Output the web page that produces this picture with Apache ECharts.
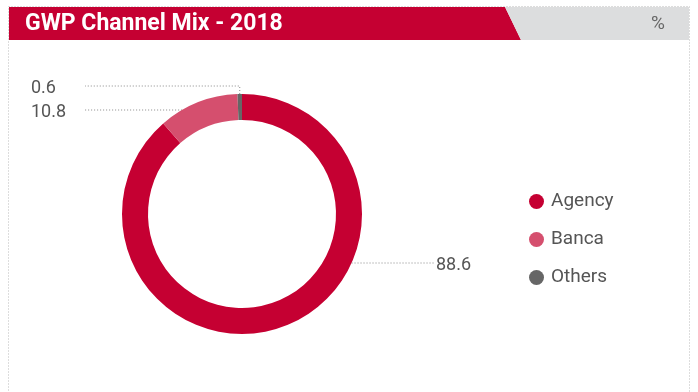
<!DOCTYPE html>
<html>
<head>
<meta charset="utf-8">
<script src="https://cdn.jsdelivr.net/npm/echarts@6/dist/echarts.min.js"></script>
<style>
html,body{margin:0;padding:0;background:#fff;}
#chart{width:698px;height:392px;}
</style>
</head>
<body>
<div id="chart"></div>
<script>
const title = 'GWP Channel Mix - 2018';
const unit = '%';
const categories = ['Agency', 'Banca', 'Others'];
const values = [88.6, 10.8, 0.6];
const colors = ['#C50032', '#D54F6E', '#666666'];

const CX = 242, CY = 214, R_IN = 94, R_OUT = 120;
const FONT = 'Roboto, "Noto Sans", sans-serif';

function edgeX(y, side) {
  const dy = y - CY;
  return CX + side * Math.sqrt(Math.max(0, R_OUT * R_OUT - dy * dy));
}

const labelSpots = [
  { x: 436, y: 263, lineFrom: 435, side: 1 },
  { x: 31, y: 110, lineFrom: 85, side: -1 },
  { x: 31, y: 86, lineFrom: 85, side: 0 }
];

const chart = echarts.init(document.getElementById('chart'), null, { renderer: 'canvas' });

const option = {
  animation: false,
  color: colors,
  textStyle: { fontFamily: FONT },
  graphic: [
    { type: 'rect', shape: { x: 8.5, y: 6.5, width: 681, height: 420 }, style: { fill: 'none', stroke: '#bbbbbb', lineWidth: 1, lineDash: [1, 2] }, z: 1 },
    { type: 'polygon', shape: { points: [[9, 7], [505, 7], [521, 40], [9, 40]] }, style: { fill: '#C50032' }, z: 2 },
    { type: 'polygon', shape: { points: [[505, 7], [689, 7], [689, 40], [521, 40]] }, style: { fill: '#DCDDDE' }, z: 2 },
    { type: 'text', left: 25, top: 13, style: { text: title, fill: '#ffffff', font: 'bold 23px ' + FONT }, z: 3 },
    { type: 'text', left: 651, top: 15, style: { text: unit, fill: '#666666', font: '19px ' + FONT }, z: 3 }
  ],
  legend: {
    orient: 'vertical',
    left: 524,
    top: 187,
    icon: 'circle',
    itemWidth: 15,
    itemHeight: 15,
    itemGap: 19,
    data: categories,
    textStyle: { color: '#555555', fontSize: 19, fontFamily: FONT, padding: [0, 0, 0, 2] }
  },
  series: [{
    type: 'pie',
    center: [CX, CY],
    radius: [R_IN, R_OUT],
    startAngle: 90,
    clockwise: true,
    avoidLabelOverlap: false,
    silent: true,
    data: categories.map((c, i) => ({ name: c, value: values[i] })),
    label: {
      show: true,
      position: 'outside',
      formatter: p => String(values[p.dataIndex]),
      color: '#555555',
      fontSize: 18,
      fontFamily: FONT
    },
    labelLine: {
      show: true,
      lineStyle: { color: '#888888', width: 1, type: [1, 2] }
    },
    labelLayout: function (params) {
      const s = labelSpots[params.dataIndex];
      let pts;
      if (s.side === 0) {
        const p0 = params.labelLinePoints ? params.labelLinePoints[0] : [CX - 2, CY - R_OUT];
        pts = [[p0[0], p0[1]], [p0[0], s.y], [s.lineFrom, s.y]];
      } else {
        pts = [[edgeX(s.y, s.side), s.y], [(edgeX(s.y, s.side) + s.lineFrom) / 2, s.y], [s.lineFrom, s.y]];
      }
      return { x: s.x, y: s.y + 2, align: 'left', verticalAlign: 'middle', labelLinePoints: pts };
    }
  }]
};
chart.setOption(option);
</script>
</body>
</html>
